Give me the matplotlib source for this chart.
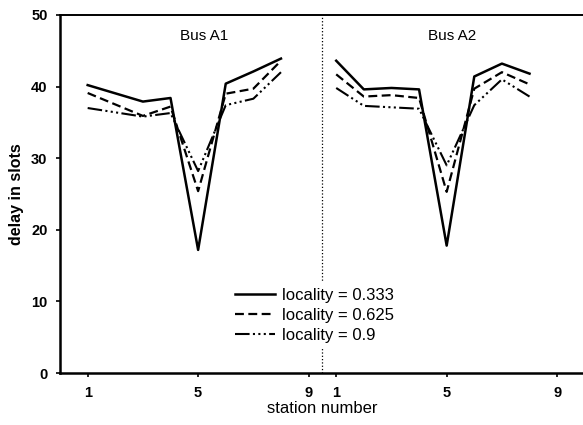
import matplotlib
matplotlib.use("Agg")
import matplotlib.pyplot as plt

plt.rcParams["font.family"] = ["Liberation Sans", "DejaVu Sans"]

# Bus A1 (left half), stations with visible vertices
a1_stations = [1, 3, 4, 5, 6, 7, 8]
a1_loc333 = [40.2, 37.9, 38.4, 17.2, 40.4, 42.1, 43.9]
a1_loc625 = [39.1, 35.9, 37.2, 25.4, 39.0, 39.7, 43.6]
a1_loc900 = [37.0, 35.8, 36.3, 28.2, 37.4, 38.3, 42.0]

# Bus A2 (right half)
a2_stations = [1, 2, 3, 4, 5, 6, 7, 8]
a2_loc333 = [43.6, 39.6, 39.8, 39.6, 17.8, 41.4, 43.2, 41.8]
a2_loc625 = [41.7, 38.6, 38.8, 38.4, 25.3, 39.7, 42.0, 40.3]
a2_loc900 = [39.8, 37.3, 37.1, 36.9, 29.0, 37.4, 41.0, 38.6]

labels = ["locality = 0.333", "locality = 0.625", "locality = 0.9"]
tick_labels = ["1", "5", "9", "1", "5", "9"]

OFFSET = 9  # right half starts after station 9 of the left half

fig = plt.figure(figsize=(5.83, 4.25), dpi=100)
ax = fig.add_axes([0.103, 0.122, 0.9, 0.843])

styles = [
    dict(linestyle="-", linewidth=1.8),
    dict(linestyle=(0, (4, 2)), linewidth=1.6),
    dict(linestyle=(0, (7, 1.6, 1, 1.6, 1, 1.6, 1, 1.6)), linewidth=1.5),
]

a1 = [a1_loc333, a1_loc625, a1_loc900]
a2 = [a2_loc333, a2_loc625, a2_loc900]
for vals1, vals2, st, lab in zip(a1, a2, styles, labels):
    ax.plot(a1_stations, vals1, color="black", label=lab, **st)
    ax.plot([s + OFFSET for s in a2_stations], vals2, color="black", **st)

ax.axvline(9.5, color="black", linestyle=":", linewidth=0.9, zorder=1)

ax.text(5.2, 47.0, "Bus A1", ha="center", va="center", fontsize=11)
ax.text(14.2, 47.0, "Bus A2", ha="center", va="center", fontsize=11)

ax.set_xlim(0, 19)
ax.set_ylim(0, 50)
ax.set_xticks([1, 5, 9, 10, 14, 18], tick_labels)
ax.set_yticks([0, 10, 20, 30, 40, 50])
ax.tick_params(direction="out", length=3, width=1.2, labelsize=10.5, pad=6)
for lbl in ax.get_xticklabels() + ax.get_yticklabels():
    lbl.set_fontweight("bold")

ax.spines["right"].set_visible(False)
for side in ("left", "bottom"):
    ax.spines[side].set_linewidth(1.8)
ax.spines["top"].set_linewidth(1.4)

ax.set_ylabel("delay in slots", fontsize=11.5, fontweight="bold", labelpad=5)
ax.set_xlabel("station number", fontsize=12, labelpad=1)

leg = ax.legend(
    loc="center",
    bbox_to_anchor=(0.485, 0.162),
    fontsize=12,
    handlelength=2.4,
    handletextpad=0.42,
    labelspacing=0.3,
    frameon=True,
    facecolor="white",
    edgecolor="none",
    framealpha=1.0,
    fancybox=False,
    borderpad=0.4,
)
leg.set_zorder(5)

fig.savefig("out.png", dpi=100)
plt.close(fig)
